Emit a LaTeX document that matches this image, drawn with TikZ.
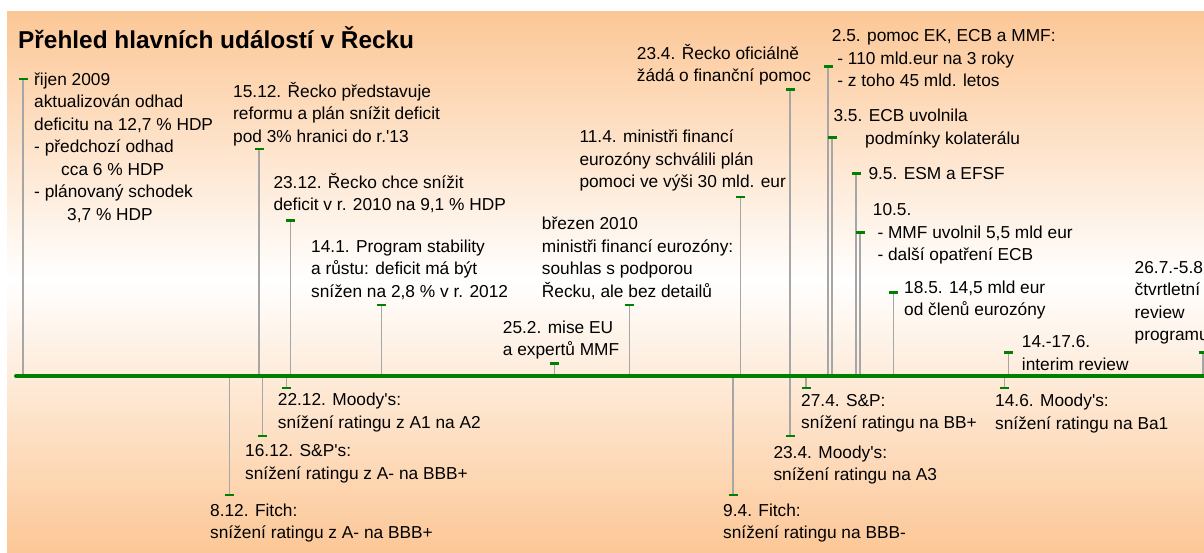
\documentclass[tikz,border=0pt]{standalone}
\usepackage{fontspec}
\setmainfont{Liberation Sans}[Ligatures=TeXOff]
\definecolor{peach}{RGB}{252,199,150}
\definecolor{axisgreen}{RGB}{0,128,0}
\definecolor{stemgray}{RGB}{166,166,166}
\newcommand{\evlines}[1]{\begin{tabular}[t]{@{}l@{}}#1\end{tabular}}
\tikzset{
  stem/.style={draw=stemgray, line width=1.5pt},
  tickmark/.style={draw=axisgreen, line width=2.6pt},
  axisline/.style={draw=axisgreen, line width=4pt, line cap=round},
  lbl/.style={anchor=base west, inner sep=0pt, text=black, font=\fontsize{17.3}{22.5}\selectfont},
  titlefont/.style={anchor=base west, inner sep=0pt, text=black, font=\bfseries\fontsize{24.4}{29}\selectfont}
}
% name, x, tick y
\newcommand{\evmark}[3]{%
  \coordinate (t#1) at (#2,#3);
  \coordinate (a#1) at (#2,376);
  \draw[stem] (t#1) -- (a#1);
  \draw[tickmark] ([xshift=-4.5pt]t#1) -- ([xshift=4.5pt]t#1);
}
\begin{document}
\begin{tikzpicture}[x=1pt,y=-1pt]
\useasboundingbox (0,0) rectangle (1204,553);
\fill[white] (0,0) rectangle (1204,553);
% background gradient
\fill[top color=peach, bottom color=white] (7,12) rectangle (1204,280.5);
\fill[top color=white, bottom color=peach] (7,280) rectangle (1204,553);

% title
\node[titlefont] (title) at (18,48.3) {Přehled hlavních událostí v Řecku};

% stems and ticks above the axis
\evmark{okt}{23}{79}
\evmark{d15}{259}{149}
\evmark{d23}{290.7}{220.3}
\evmark{j14}{381.7}{305}
\evmark{f25}{554.3}{363.3}
\evmark{mar}{629.3}{305}
\evmark{a11}{740.3}{197}
\evmark{a23}{790}{89.3}
\evmark{m2}{828}{66.7}
\evmark{m3}{832}{137.3}
\evmark{m9}{856}{173.3}
\evmark{m10}{860}{232.7}
\evmark{m18}{893.3}{292.3}
\evmark{jun}{1008.3}{352.7}
\evmark{jul}{1203}{352.7}
% stems and ticks below the axis
\evmark{d8}{229.3}{495}
\evmark{d16}{262.7}{436}
\evmark{d22}{286.7}{388}
\evmark{a9}{733}{495}
\evmark{a23m}{790}{436}
\evmark{a27}{806}{388}
\evmark{j14m}{1004.3}{388}

% axis
\coordinate (axL) at (16,376);
\coordinate (axR) at (1212,376);
\draw[axisline] (axL) -- (axR);

% labels above
\node[lbl] (nokt) at (34,85.5) {\evlines{řijen 2009\\aktualizován odhad\\deficitu na 12,7 \% HDP\\- předchozí odhad\\\hspace*{27pt}cca 6 \% HDP\\- plánovaný schodek\\\hspace*{33pt}3,7 \% HDP}};
\node[lbl] (nd15) at (233,97.5) {\evlines{15.12. Řecko představuje\\reformu a plán snížit deficit\\pod 3\% hranici do r.'13}};
\node[lbl] (nd23) at (273.3,188.3) {\evlines{23.12. Řecko chce snížit\\deficit v r. 2010 na 9,1 \% HDP}};
\node[lbl] (nj14) at (311,252.3) {\evlines{14.1. Program stability\\a růstu: deficit má být\\snížen na 2,8 \% v r. 2012}};
\node[lbl] (nf25) at (502.7,333.3) {\evlines{25.2. mise EU\\a expertů MMF}};
\node[lbl] (nmar) at (541.7,230) {\evlines{březen 2010\\ministři financí eurozóny:\\souhlas s podporou\\Řecku, ale bez detailů}};
\node[lbl] (na11) at (579.3,142.7) {\evlines{11.4. ministři financí\\eurozóny schválili plán\\pomoci ve výši 30 mld. eur}};
\node[lbl] (na23) at (636.7,59.3) {\evlines{23.4. Řecko oficiálně\\žádá o finanční pomoc}};
\node[lbl] (nm2) at (831.7,41.7) {\evlines{2.5. pomoc EK, ECB a MMF:\\\hspace*{5.5pt}- 110 mld.eur na 3 roky\\\hspace*{5.5pt}- z toho 45 mld. letos}};
\node[lbl] (nm3) at (833.3,121.7) {\evlines{3.5. ECB uvolnila\\\hspace*{31.7pt}podmínky kolaterálu}};
\node[lbl] (nm9) at (868.3,179.3) {9.5. ESM a EFSF};
\node[lbl] (nm10) at (872.7,215.7) {\evlines{10.5.\\\hspace*{4.6pt}- MMF uvolnil 5,5 mld eur\\\hspace*{4.6pt}- další opatření ECB}};
\node[lbl] (nm18) at (904,293.3) {\evlines{18.5. 14,5 mld eur\\od členů eurozóny}};
\node[lbl] (njun) at (1021.7,347.7) {\evlines{14.-17.6.\\interim review}};
\node[lbl] (njul) at (1134.5,273.3) {\evlines{26.7.-5.8.\\čtvrtletní\\review\\programu}};

% labels below
\node[lbl] (nd22) at (277.7,405.7) {\evlines{22.12. Moody's:\\snížení ratingu z A1 na A2}};
\node[lbl] (nd16) at (245,456.7) {\evlines{16.12. S\&P's:\\snížení ratingu z A- na BBB+}};
\node[lbl] (nd8) at (210,516) {\evlines{8.12. Fitch:\\snížení ratingu z A- na BBB+}};
\node[lbl] (na9) at (723,516) {\evlines{9.4. Fitch:\\snížení ratingu na BBB-}};
\node[lbl] (na23m) at (773.3,458.3) {\evlines{23.4. Moody's:\\snížení ratingu na A3}};
\node[lbl] (na27) at (801,406) {\evlines{27.4. S\&P:\\snížení ratingu na BB+}};
\node[lbl] (nj14m) at (995,406.7) {\evlines{14.6. Moody's:\\snížení ratingu na Ba1}};
\end{tikzpicture}
\end{document}
